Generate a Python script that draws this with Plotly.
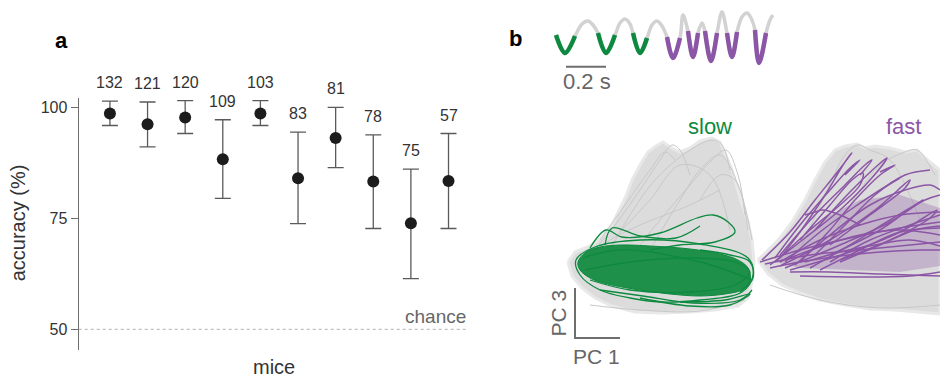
import plotly.graph_objects as go

# ---------------- Panel a data ----------------
mice = list(range(10))
trial_counts = [132, 121, 120, 109, 103, 83, 81, 78, 75, 57]
accuracy = [98.6, 96.2, 97.7, 88.3, 98.6, 84.0, 93.1, 83.3, 73.9, 83.4]
err_hi = [101.4, 101.2, 101.5, 97.2, 101.5, 94.4, 100.0, 93.8, 86.1, 94.1]
err_lo = [95.9, 91.1, 94.1, 79.5, 95.9, 73.8, 86.4, 72.7, 61.4, 72.7]
y_ticks = [50, 75, 100]
chance_level = 50

# ---------------- Panel b data (canvas units) ----------------
breath_x = [556, 565, 575, 582, 588, 593, 598, 606, 615, 620, 625, 630, 633, 640, 647, 652, 657, 662,
            667, 673, 680, 683, 688, 693, 698, 702, 705, 711, 717, 722, 727, 732, 737, 742, 747, 751,
            755, 759, 766, 770, 773]
breath_y = [35, 53, 36, 24, 21, 25, 33, 53, 35, 23, 19, 24, 33, 53, 38, 25, 21, 26,
            37, 58, 38, 15, 31, 57, 33, 23, 31, 61, 33, 12, 33, 57, 32, 17, 13, 18,
            30, 63, 33, 20, 15]
slow_cycles = [([556, 565, 575], [35, 53, 36]),
               ([598, 606, 615], [33, 53, 35]),
               ([633, 640, 647], [33, 53, 38])]
fast_cycles = [([667, 673, 680], [37, 58, 38]),
               ([688, 693, 698], [31, 57, 33]),
               ([705, 711, 717], [31, 61, 33]),
               ([727, 732, 737], [33, 57, 32]),
               ([755, 759, 766], [30, 63, 33])]

slow_cloud_x = [568, 575, 590, 600, 612, 618, 626, 632, 640, 648, 656, 663, 670, 680, 690, 700, 712, 720,
                726, 732, 738, 742, 748, 752, 754, 752, 748, 738, 715, 690, 660, 635, 612, 595, 582, 572, 568]
slow_cloud_y = [262, 252, 246, 238, 225, 212, 196, 180, 165, 152, 146, 142, 147, 152, 148, 141, 138, 142,
                155, 170, 190, 205, 222, 240, 262, 282, 298, 306, 310, 312, 313, 312, 306, 298, 288, 276, 262]
fast_cloud_x = [758, 768, 780, 792, 805, 815, 825, 835, 845, 857, 865, 875, 890, 905, 917, 930, 940,
                940, 920, 895, 870, 845, 820, 800, 782, 768, 758]
fast_cloud_y = [260, 250, 238, 222, 200, 180, 162, 150, 146, 144, 148, 146, 148, 152, 150, 162, 170,
                314, 312, 310, 309, 305, 300, 293, 285, 274, 260]

gray_strands = [
    ([590, 615, 640, 660, 672, 680, 690], [255, 225, 190, 160, 145, 150, 175]),
    ([610, 630, 655, 690, 712, 722, 730], [250, 215, 180, 150, 140, 145, 170]),
    ([640, 660, 690, 712, 726, 738, 745], [245, 220, 185, 160, 150, 175, 215]),
    ([600, 625, 650, 665, 675], [240, 205, 170, 152, 160]),
    ([650, 680, 700, 720, 740, 752], [250, 200, 170, 155, 190, 240]),
    ([580, 610, 640, 690, 720], [262, 240, 225, 205, 190]),
    ([700, 720, 735, 748], [200, 175, 180, 230]),
    ([620, 650, 680, 710, 730], [232, 200, 165, 175, 230]),
    ([590, 640, 700, 745], [305, 310, 311, 300]),
    ([800, 825, 845, 857, 870, 890, 920], [250, 195, 155, 145, 150, 160, 220]),
    ([830, 860, 880, 905, 917, 935], [240, 190, 165, 152, 150, 175]),
    ([770, 820, 880, 940], [285, 300, 308, 305]),
]

green_core_x = [578, 586, 600, 620, 650, 690, 720, 738, 748, 750, 742, 725, 700, 670, 640, 612, 592, 580, 578]
green_core_y = [262, 252, 247, 245, 246, 249, 254, 260, 268, 282, 290, 294, 296, 294, 290, 285, 279, 270, 262]
green_loops = [
    ([576, 595, 640, 700, 748, 753, 742, 700, 660, 630, 600, 580, 576], [260, 247, 240, 244, 258, 275, 292, 300, 302, 298, 290, 275, 260]),
    ([590, 606, 622, 660, 697, 713, 728, 735, 715, 680, 650], [248, 230, 237, 233, 218, 215, 222, 232, 242, 245, 250]),
    ([600, 643, 693, 740, 752], [290, 296, 303, 300, 290]),
    ([583, 620, 700, 752], [258, 250, 262, 280]),
    ([605, 612, 640, 676, 700], [245, 228, 236, 238, 226]),
    ([585, 630, 690, 735, 750, 735, 690, 630, 590], [270, 262, 258, 262, 272, 285, 292, 290, 280]),
    ([640, 690, 730, 750, 725, 680], [298, 306, 305, 294, 300, 302]),
    ([700, 730, 750, 753, 740], [250, 255, 262, 278, 292]),
]

purple_core_x = [775, 800, 830, 860, 900, 940, 940, 900, 850, 800, 775]
purple_core_y = [262, 240, 215, 200, 195, 208, 266, 272, 270, 268, 262]
purple_lines = [
    ([762, 790, 815, 835, 852, 845, 825, 800, 780], [260, 232, 200, 175, 153, 162, 195, 232, 258]),
    ([770, 805, 840, 870, 887, 878, 850, 815], [265, 238, 210, 180, 158, 165, 192, 230]),
    ([775, 810, 840, 860, 863, 852, 830, 800], [262, 230, 205, 185, 173, 180, 205, 240]),
    ([780, 830, 875, 910, 905, 870, 830], [266, 240, 210, 180, 188, 215, 245]),
    ([785, 840, 890, 923, 915, 880, 830], [268, 245, 222, 200, 205, 230, 255]),
    ([790, 850, 900, 937, 930, 890, 840], [270, 252, 232, 210, 218, 240, 260]),
    ([760, 800, 850, 900, 940], [262, 250, 238, 228, 222]),
    ([765, 810, 860, 910, 940], [264, 255, 250, 245, 242]),
    ([805, 815, 823, 840, 860], [215, 212, 210, 215, 225]),
    ([790, 830, 880, 940], [272, 272, 274, 276]),
    ([800, 860, 910, 940], [276, 277, 276, 272]),
    ([780, 820, 860, 900, 940], [262, 240, 225, 215, 212]),
    ([775, 800, 830, 850, 860, 845], [258, 225, 190, 168, 160, 175]),
    ([795, 830, 870, 905, 930, 940], [265, 235, 205, 190, 185, 190]),
    ([810, 850, 890, 925, 940], [268, 245, 220, 200, 195]),
    ([820, 860, 900, 940], [270, 250, 232, 228]),
    ([785, 820, 850, 880, 900], [262, 232, 210, 190, 178]),
    ([800, 830, 855, 880, 895, 880], [262, 230, 200, 175, 165, 172]),
    ([830, 870, 910, 940], [262, 240, 225, 215]),
    ([770, 800, 840, 880, 920, 940], [268, 262, 256, 252, 250, 250]),
    ([790, 825, 860, 900, 940], [258, 245, 235, 230, 235]),
    ([815, 845, 875, 905, 930], [255, 225, 195, 175, 170]),
    ([840, 880, 915, 940], [262, 245, 230, 226]),
    ([780, 815, 845, 865, 872, 860], [255, 215, 185, 165, 160, 175]),
    ([805, 840, 875, 910, 940], [262, 252, 245, 240, 246]),
]

GREEN = "#0d8a3f"
PURPLE = "#8c56a6"
FONT = "Liberation Sans, Arial, sans-serif"

fig = go.Figure()

# ---- panel a ----
fig.add_trace(go.Scatter(
    x=mice, y=accuracy, mode="markers",
    marker=dict(size=12, color="#1c1c1c"),
    error_y=dict(type="data", symmetric=False,
                 array=[h - a for h, a in zip(err_hi, accuracy)],
                 arrayminus=[a - l for a, l in zip(accuracy, err_lo)],
                 color="#5a5a5a", thickness=1.3, width=8),
    xaxis="x", yaxis="y", showlegend=False, cliponaxis=False, hoverinfo="skip"))

# ---- panel b (overlay in canvas units) ----
def add_b(x, y, **kw):
    fig.add_trace(go.Scatter(x=x, y=y, xaxis="x2", yaxis="y2", showlegend=False,
                             hoverinfo="skip", **kw))

for cx, cy in [(slow_cloud_x, slow_cloud_y), (fast_cloud_x, fast_cloud_y)]:
    add_b(cx, cy, mode="lines", fill="toself", fillcolor="#dcdcdc",
          line=dict(color="#e8e8e8", width=3))
for sx, sy in gray_strands:
    add_b(sx, sy, mode="lines", line=dict(color="#c8c8c8", width=1, shape="spline"))

add_b(green_core_x, green_core_y, mode="lines", fill="toself", fillcolor="rgba(10,135,58,0.9)",
      line=dict(color=GREEN, width=1, shape="spline"))
for gx, gy in green_loops:
    add_b(gx, gy, mode="lines", line=dict(color=GREEN, width=1.3, shape="spline"))

add_b(purple_core_x, purple_core_y, mode="lines", fill="toself", fillcolor="rgba(140,86,166,0.3)",
      line=dict(color="rgba(0,0,0,0)", width=0))
for px_, py_ in purple_lines:
    add_b(px_, py_, mode="lines", line=dict(color=PURPLE, width=1.5, shape="spline"))

add_b(breath_x, breath_y, mode="lines", line=dict(color="#d2d2d2", width=3.5, shape="spline"))
for cx, cy in slow_cycles:
    add_b(cx, cy, mode="lines", line=dict(color=GREEN, width=4.5, shape="spline"))
for cx, cy in fast_cycles:
    add_b(cx, cy, mode="lines", line=dict(color=PURPLE, width=4.5, shape="spline"))

# scale bars
add_b([566, 606], [66.7, 66.7], mode="lines", line=dict(color="#6e6e6e", width=2))
add_b([575, 575, 620], [288, 338, 338], mode="lines", line=dict(color="#6e6e6e", width=2))

fig.update_layout(
    width=940, height=378,
    margin=dict(l=0, r=0, t=0, b=0),
    paper_bgcolor="white", plot_bgcolor="rgba(0,0,0,0)",
    font=dict(family=FONT, color="#333333", size=16),
    hovermode=False,
    xaxis=dict(domain=[78.7 / 940, 467.7 / 940], range=[-0.83, 9.51],
               showticklabels=False, ticks="", showgrid=False, zeroline=False, showline=False),
    yaxis=dict(domain=[1 - 350 / 378, 1 - 98.3 / 378], range=[45.34, 102.03],
               tickvals=y_ticks, ticks="outside", ticklen=7, tickwidth=1.2, tickcolor="#6e6e6e",
               showline=True, linecolor="#6e6e6e", linewidth=1.3, showgrid=False, zeroline=False,
               tickfont=dict(size=16, color="#333333"), anchor="x"),
    xaxis2=dict(domain=[500 / 940, 1], range=[500, 940], visible=False, anchor="y2"),
    yaxis2=dict(domain=[0, 1], range=[378, 0], visible=False, anchor="x2"),
)

fig.add_shape(type="line", xref="x", yref="y", x0=-0.83, x1=9.51, y0=chance_level, y1=chance_level,
              line=dict(color="#b0b0b0", width=1, dash="dot"))

C = dict(xanchor="center", yanchor="middle", showarrow=False)
ann = []
for m, n, h in zip(mice, trial_counts, err_hi):
    ann.append(dict(x=m, y=h, xref="x", yref="y", text=str(n), showarrow=False, xanchor="center",
                    yanchor="bottom", yshift=8, font=dict(size=16, color="#333333")))
ann += [
    dict(x=9.51, y=chance_level, xref="x", yref="y", text="chance", showarrow=False,
         xanchor="right", yanchor="bottom", yshift=0, font=dict(size=19, color="#666666")),
    dict(x=274 / 940, y=1 - 366.7 / 378, xref="paper", yref="paper", text="mice",
         font=dict(size=20, color="#333333"), **C),
    dict(x=18.3 / 940, y=1 - 223 / 378, xref="paper", yref="paper", text="accuracy (%)",
         textangle=-90, font=dict(size=20, color="#333333"), **C),
    dict(x=61 / 940, y=1 - 40 / 378, xref="paper", yref="paper", text="<b>a</b>",
         font=dict(size=22, color="black"), **C),
    dict(x=515.7 / 940, y=1 - 38.3 / 378, xref="paper", yref="paper", text="<b>b</b>",
         font=dict(size=22, color="black"), **C),
    dict(x=586.7, y=81.7, xref="x2", yref="y2", text="0.2 s", font=dict(size=22, color="#666666"), **C),
    dict(x=710, y=126, xref="x2", yref="y2", text="slow", font=dict(size=22, color=GREEN), **C),
    dict(x=903.3, y=126, xref="x2", yref="y2", text="fast", font=dict(size=22, color=PURPLE), **C),
    dict(x=558.3, y=313.3, xref="x2", yref="y2", text="PC 3", textangle=-90,
         font=dict(size=21, color="#666666"), **C),
    dict(x=596.7, y=356.7, xref="x2", yref="y2", text="PC 1", font=dict(size=21, color="#666666"), **C),
]
fig.update_layout(annotations=ann)

fig.write_html("out.html", config={"displayModeBar": False},
               post_script="document.body.style.margin='0';")
